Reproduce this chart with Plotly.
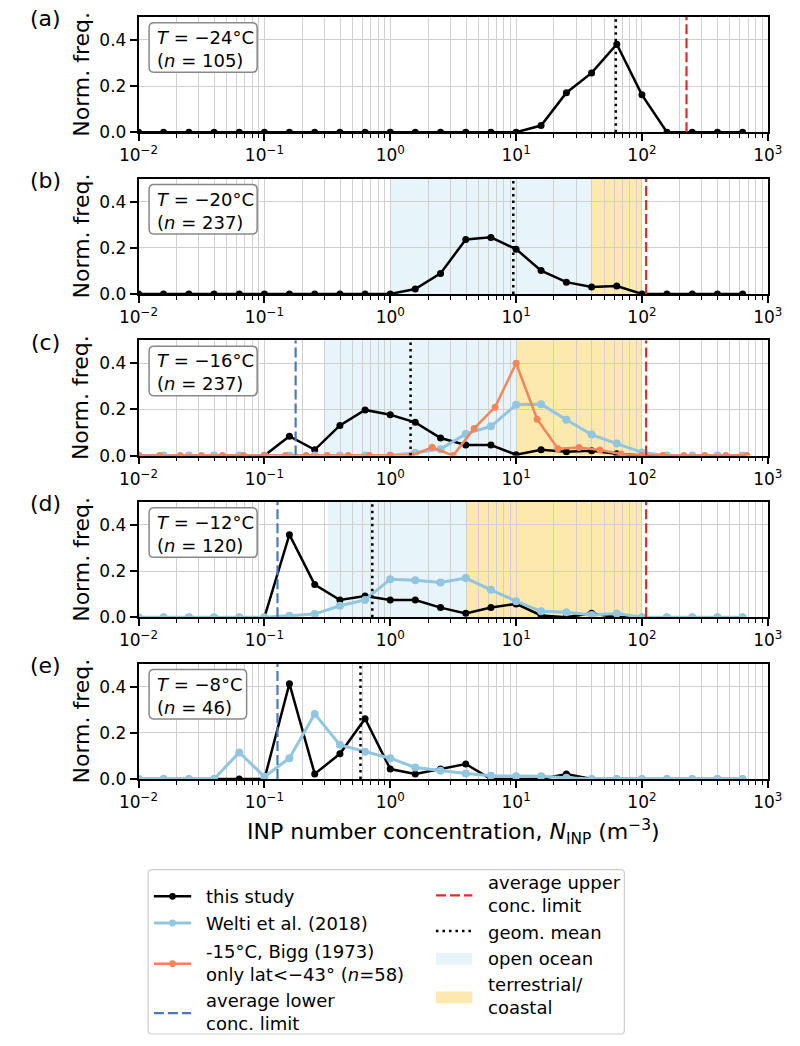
import plotly.graph_objects as go

W, H = 800, 1046
FONT = "DejaVu Sans"

# ---------------- data ----------------
# log-spaced bin centres, 5 per decade (this study and Welti et al.)
bins = [0.0100, 0.0158, 0.0251, 0.0398, 0.0631, 0.100, 0.158, 0.251, 0.398, 0.631,
        1.00, 1.58, 2.51, 3.98, 6.31, 10.0, 15.8, 25.1, 39.8, 63.1,
        100, 158, 251, 398, 631]
# log-spaced bin centres, 6 per decade (Bigg 1973)
bins_bigg = [0.0100, 0.0147, 0.0215, 0.0316, 0.0464, 0.0681, 0.100, 0.147, 0.215, 0.316,
             0.464, 0.681, 1.00, 1.47, 2.15, 3.16, 4.64, 6.81, 10.0, 14.7,
             21.5, 31.6, 46.4, 68.1, 100, 147, 215, 316, 464, 681]

study_m24 = [0, 0, 0, 0, 0, 0, 0, 0, 0, 0, 0, 0, 0, 0, 0, 0,
             0.029, 0.171, 0.257, 0.381, 0.162, 0, 0, 0, 0]
study_m20 = [0, 0, 0, 0, 0, 0, 0, 0, 0, 0, 0,
             0.021, 0.089, 0.236, 0.245, 0.194, 0.101, 0.051, 0.030, 0.034, 0, 0, 0, 0, 0]
study_m16 = [0, 0, 0, 0, 0, 0,
             0.084, 0.025, 0.131, 0.198, 0.177, 0.144, 0.076, 0.046, 0.046, 0.004,
             0.025, 0.017, 0.021, 0.008, 0, 0, 0, 0, 0]
study_m12 = [0, 0, 0, 0, 0, 0,
             0.358, 0.142, 0.075, 0.092, 0.075, 0.075, 0.042, 0.017, 0.042, 0.058,
             0.008, 0, 0.017, 0, 0, 0, 0, 0, 0]
study_m8 = [0, 0, 0, 0, 0, 0,
            0.413, 0.022, 0.109, 0.261, 0.043, 0.022, 0.043, 0.065, 0, 0,
            0, 0.022, 0, 0, 0, 0, 0, 0, 0]

welti_m16 = [0, 0, 0, 0, 0, 0, 0, 0, 0, 0, 0,
             0.012, 0.028, 0.094, 0.127, 0.220, 0.223, 0.155, 0.091, 0.052, 0.014,
             0, 0, 0, 0]
welti_m12 = [0, 0, 0, 0, 0, 0,
             0.007, 0.014, 0.050, 0.075, 0.165, 0.161, 0.151, 0.170, 0.119, 0.070,
             0.026, 0.022, 0.010, 0.016, 0, 0, 0, 0, 0]
welti_m8 = [0, 0, 0, 0, 0.115, 0.010, 0.090, 0.282, 0.148, 0.118, 0.090, 0.050,
            0.036, 0.024, 0.014, 0.012, 0.012, 0.005, 0, 0, 0, 0, 0, 0, 0]

bigg_m15 = [0, 0, 0, 0, 0, 0, 0, 0, 0, 0, 0, 0, 0, 0,
            0.036, 0, 0.118, 0.210, 0.400, 0.158, 0.030, 0.035, 0.024, 0.007,
            0, 0, 0, 0, 0, 0]

panel_tags = ["(a)", "(b)", "(c)", "(d)", "(e)"]
temperatures = ["−24", "−20", "−16", "−12", "−8"]
n_samples = [105, 237, 237, 120, 46]
study = [study_m24, study_m20, study_m16, study_m12, study_m8]
welti = [None, None, welti_m16, welti_m12, welti_m8]
bigg = [None, None, bigg_m15, None, None]
geom_mean = [62.0, 9.5, 1.45, 0.72, 0.58]
upper_limit = [226, 108, 108, 108, None]
lower_limit = [None, None, 0.177, 0.127, 0.127]
ocean_range = [None, (1.0, 40.0), (0.30, 10.0), (0.32, 4.0), None]
terrestrial_range = [None, (40.0, 100.0), (10.0, 100.0), (4.0, 100.0), None]

x_ticks = [0.01, 0.1, 1, 10, 100, 1000]
x_ticktext = ["10<sup>−2</sup>", "10<sup>−1</sup>", "10<sup>0</sup>",
              "10<sup>1</sup>", "10<sup>2</sup>", "10<sup>3</sup>"]
x_minor = [m * d for d in [0.01, 0.1, 1, 10, 100] for m in range(2, 10)]
y_ticks = [0, 0.2, 0.4]
y_ticktext = ["0.0", "0.2", "0.4"]

# ---------------- styling ----------------
C_STUDY = "#000000"
C_WELTI = "#92c5de"
C_BIGG = "#f4845a"
C_UPPER = "#d62f26"
C_LOWER = "#4a78b8"
C_OCEAN = "#e7f5fa"
C_TERR = "#fde8ae"
C_GRID = "#d0d0d0"

AX_LEFT, AX_RIGHT = 124, 782
AX_TOP0, AX_H, AX_STEP = 17, 116.5, 163.25


def px(x):
    return x / W


def py(y):
    return 1 - y / H


fig = go.Figure()
layout = dict(
    width=W, height=H, margin=dict(l=0, r=0, t=0, b=0),
    paper_bgcolor="white", plot_bgcolor="white",
    font=dict(family=FONT, color="black"),
    showlegend=False,
)
shapes, annotations = [], []


def label(text, x, y, size, xanchor="center", yanchor="middle", **kw):
    annotations.append(dict(text=text, xref="paper", yref="paper", x=px(x), y=py(y),
                            xanchor=xanchor, yanchor=yanchor, showarrow=False,
                            borderpad=0, font=dict(size=size, family=FONT), **kw))


def rounded_box(x0p, x1p, y0p, y1p, r, fill, edge, width):
    x0, x1, y0, y1 = px(x0p), px(x1p), py(y0p), py(y1p)
    rx, ry = r / W, r / H
    path = (f"M {x0 + rx},{y0} L {x1 - rx},{y0} Q {x1},{y0} {x1},{y0 - ry} "
            f"L {x1},{y1 + ry} Q {x1},{y1} {x1 - rx},{y1} L {x0 + rx},{y1} "
            f"Q {x0},{y1} {x0},{y1 + ry} L {x0},{y0 - ry} Q {x0},{y0} {x0 + rx},{y0} Z")
    shapes.append(dict(type="path", path=path, xref="paper", yref="paper",
                       fillcolor=fill, line=dict(color=edge, width=width)))


for i in range(5):
    sfx = "" if i == 0 else str(i + 1)
    xa, ya = "x" + sfx, "y" + sfx
    top = AX_TOP0 + i * AX_STEP
    bot = top + AX_H

    layout["xaxis" + sfx] = dict(
        type="log", range=[-2, 3], domain=[px(AX_LEFT), px(AX_RIGHT)], anchor=ya,
        tickvals=x_ticks, ticktext=x_ticktext, ticks="outside", ticklen=7, tickwidth=1.5,
        tickcolor="black", tickfont=dict(size=17, family=FONT),
        showgrid=True, gridcolor=C_GRID, gridwidth=1,
        minor=dict(tickvals=x_minor, ticks="outside", ticklen=4, tickwidth=1.2,
                   tickcolor="black", showgrid=True, gridcolor=C_GRID, gridwidth=1),
        showline=True, linecolor="black", linewidth=1.6, mirror=True, zeroline=False,
    )
    layout["yaxis" + sfx] = dict(
        range=[0, 0.5], domain=[py(bot), py(top)], anchor=xa,
        tickvals=y_ticks, ticktext=y_ticktext, ticks="outside", ticklen=7, tickwidth=1.5,
        tickcolor="black", tickfont=dict(size=17, family=FONT),
        showgrid=True, gridcolor=C_GRID, gridwidth=1,
        showline=True, linecolor="black", linewidth=1.6, mirror=True, zeroline=False,
    )

    # source-type shading
    for rng, col in [(ocean_range[i], C_OCEAN), (terrestrial_range[i], C_TERR)]:
        if rng:
            shapes.append(dict(type="rect", xref=xa, yref=ya + " domain",
                               x0=rng[0], x1=rng[1], y0=0, y1=1, fillcolor=col,
                               line=dict(width=0), layer="below"))

    # frequency distributions
    fig.add_trace(go.Scatter(x=bins, y=study[i], mode="lines+markers", xaxis=xa, yaxis=ya,
                             line=dict(color=C_STUDY, width=2.5),
                             marker=dict(color=C_STUDY, size=7)))
    if welti[i]:
        fig.add_trace(go.Scatter(x=bins, y=welti[i], mode="lines+markers", xaxis=xa, yaxis=ya,
                                 line=dict(color=C_WELTI, width=3),
                                 marker=dict(color=C_WELTI, size=8)))
    if bigg[i]:
        fig.add_trace(go.Scatter(x=bins_bigg, y=bigg[i], mode="lines+markers", xaxis=xa, yaxis=ya,
                                 line=dict(color=C_BIGG, width=2.5),
                                 marker=dict(color=C_BIGG, size=7)))

    # reference lines
    fig.add_trace(go.Scatter(x=[geom_mean[i]] * 2, y=[0, 0.5], mode="lines", xaxis=xa, yaxis=ya,
                             line=dict(color="black", width=2.5, dash="2.5px,4px")))
    if upper_limit[i]:
        fig.add_trace(go.Scatter(x=[upper_limit[i]] * 2, y=[0, 0.5], mode="lines", xaxis=xa,
                                 yaxis=ya, line=dict(color=C_UPPER, width=2.2, dash="10px,4px")))
    if lower_limit[i]:
        fig.add_trace(go.Scatter(x=[lower_limit[i]] * 2, y=[0, 0.5], mode="lines", xaxis=xa,
                                 yaxis=ya, line=dict(color=C_LOWER, width=2.2, dash="10px,4px")))

    # panel tag and y title
    label(panel_tags[i], 27, top + 2, 22)
    label("Norm. freq.", 64, (top + bot) / 2, 22, textangle=-90)

    # temperature / sample-size box
    box_w = 113 if len(temperatures[i]) > 2 else 102
    rounded_box(135, 135 + box_w, top + 6, top + 56, 5, "white", "#888888", 1.5)
    label(f"<i>T</i> = {temperatures[i]}°C<br>(<i>n</i> = {n_samples[i]})",
          142, top + 32.5, 18, xanchor="left", align="left")

# x title under the last panel
label("INP number concentration, <i>N</i><sub>INP</sub> (m<sup>−3</sup>)",
      (AX_LEFT + AX_RIGHT) / 2, 840, 22)

# ---------------- legend ----------------
rounded_box(134, 632, 878, 1044, 4, "white", "#cccccc", 1.2)


def legend_line(xa0, xa1, y, color, width, dash="solid", marker=False):
    shapes.append(dict(type="line", xref="paper", yref="paper", x0=px(xa0), x1=px(xa1),
                       y0=py(y), y1=py(y), line=dict(color=color, width=width, dash=dash)))
    if marker:
        r = 3.5
        cx = (xa0 + xa1) / 2
        shapes.append(dict(type="circle", xref="paper", yref="paper",
                           x0=px(cx - r), x1=px(cx + r), y0=py(y - r), y1=py(y + r),
                           fillcolor=color, line=dict(width=0)))


def legend_patch(xa0, xa1, yc, color):
    shapes.append(dict(type="rect", xref="paper", yref="paper", x0=px(xa0), x1=px(xa1),
                       y0=py(yc - 6), y1=py(yc + 6), fillcolor=color, line=dict(width=0)))


def legend_text(x, y, text):
    label(text, x, y, 18, xanchor="left", align="left")


legend_line(140, 179, 905, C_STUDY, 2.5, marker=True)
legend_text(193, 905, "this study")
legend_line(140, 179, 932, C_WELTI, 3, marker=True)
legend_text(193, 932, "Welti et al. (2018)")
legend_line(140, 179, 973, C_BIGG, 2.5, marker=True)
legend_text(193, 972, "-15°C, Bigg (1973)<br>only lat<−43° (<i>n</i>=58)")
legend_line(140, 179, 1023, C_LOWER, 2.2, dash="10px,4px")
legend_text(193, 1022, "average lower<br>conc. limit")

legend_line(435, 473, 904, C_UPPER, 2.2, dash="10px,4px")
legend_text(488, 903, "average upper<br>conc. limit")
legend_line(435, 473, 940, "black", 2.5, dash="2.5px,4px")
legend_text(488, 941, "geom. mean")
legend_patch(435, 473, 968, C_OCEAN)
legend_text(488, 968, "open ocean")
legend_patch(435, 473, 1007, C_TERR)
legend_text(488, 1006, "terrestrial/<br>coastal")

layout["shapes"] = shapes
layout["annotations"] = annotations
fig.update_layout(**layout)
fig.write_html("out.html")
